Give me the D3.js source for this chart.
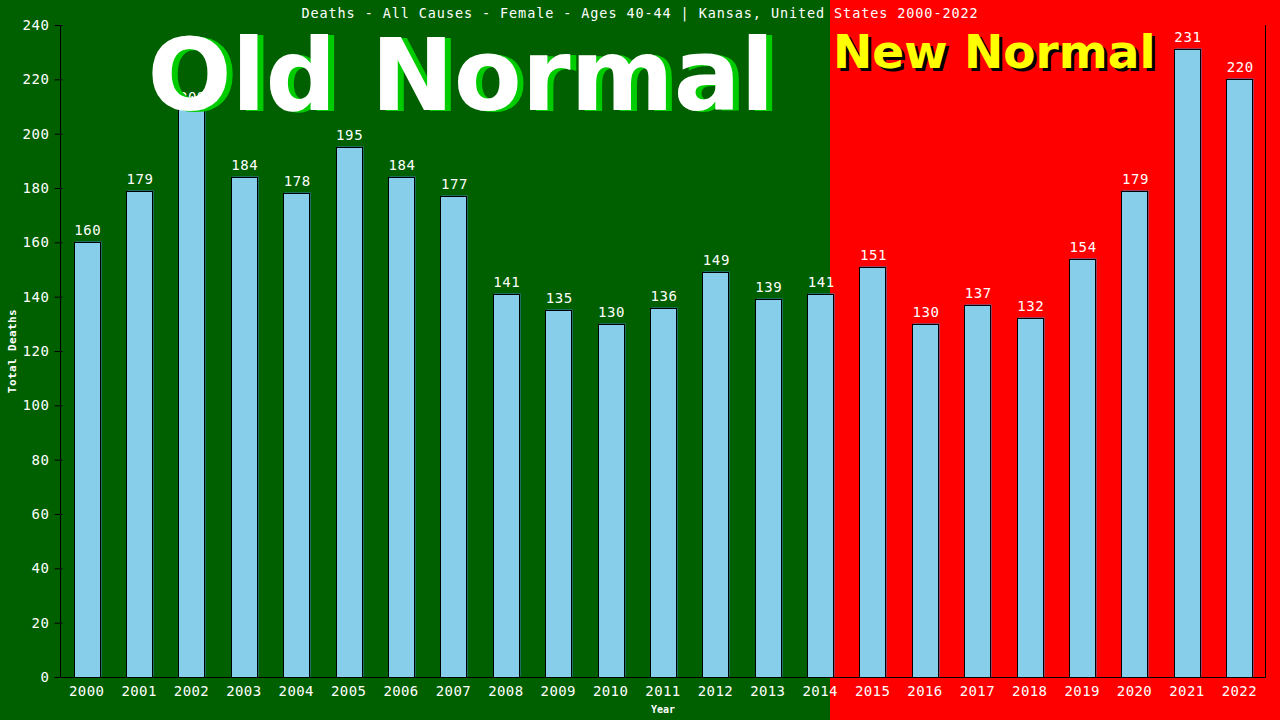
<!DOCTYPE html>
<html><head><meta charset="utf-8">
<script src="https://cdn.jsdelivr.net/npm/d3@7"></script>
<style>
html,body{margin:0;padding:0;background:#006000;}
svg{display:block;}
.mono{font-family:"DejaVu Sans Mono",monospace;}
</style></head>
<body>
<svg id="chart" width="1280" height="720"></svg>
<script>
const years = ["2000","2001","2002","2003","2004","2005","2006","2007","2008","2009","2010","2011","2012","2013","2014","2015","2016","2017","2018","2019","2020","2021","2022"];
const deaths = [160,179,209,184,178,195,184,177,141,135,130,136,149,139,141,151,130,137,132,154,179,231,220];
const yTicks = [0,20,40,60,80,100,120,140,160,180,200,220,240];
const title = "Deaths - All Causes - Female - Ages 40-44 | Kansas, United States 2000-2022";

const W = 1280, H = 720;
const m = {left:60.5, right:1265.5, top:25, bottom:677};
const splitX = 830;

const svg = d3.select("#chart");
// backgrounds
svg.append("rect").attr("x",0).attr("y",0).attr("width",splitX).attr("height",H).attr("fill","#006000");
svg.append("rect").attr("x",splitX).attr("y",0).attr("width",W-splitX).attr("height",H).attr("fill","#ff0000");

const x = d3.scaleBand().domain(years).range([m.left, m.right]).paddingInner(0.5).paddingOuter(0.25);
const y = d3.scaleLinear().domain([0,240]).range([m.bottom, m.top]);

const data = years.map((yr,i)=>({year:yr, v:deaths[i]}));

// bar shadows
svg.append("g").selectAll("rect").data(data).join("rect")
  .attr("x", d=>Math.round(x(d.year))+1.5)
  .attr("y", d=>Math.round(y(d.v))-0.5)
  .attr("width", Math.round(x.bandwidth()))
  .attr("height", d=>m.bottom - Math.round(y(d.v)))
  .attr("fill","#3a7fc0");
// bars
svg.append("g").selectAll("rect").data(data).join("rect")
  .attr("x", d=>Math.round(x(d.year))+0.5)
  .attr("y", d=>Math.round(y(d.v))+0.5)
  .attr("width", Math.round(x.bandwidth()))
  .attr("height", d=>m.bottom - Math.round(y(d.v)))
  .attr("fill","#87CEEB").attr("stroke","#000").attr("stroke-width",1);

// value labels
svg.append("g").selectAll("text").data(data).join("text")
  .attr("class","mono")
  .attr("x", d=>x(d.year)+x.bandwidth()/2+1)
  .attr("y", d=>y(d.v)-7)
  .attr("text-anchor","middle")
  .attr("fill","#fff").attr("font-size","14px").attr("letter-spacing","0.6px")
  .text(d=>d.v);

// y axis
const yAxis = svg.append("g").attr("transform",`translate(${m.left},0)`)
  .call(d3.axisLeft(y).tickValues(yTicks).tickSize(6).tickPadding(5));
yAxis.select(".domain").attr("stroke","#000").attr("d",`M0,${m.top}V${m.bottom}`);
yAxis.selectAll(".tick line").attr("stroke","#000").attr("x2",-6).attr("x1",2);
yAxis.selectAll(".tick text").attr("class","mono").attr("fill","#fff").attr("font-size","14px").attr("letter-spacing","0.6px");

// x axis
const xAxis = svg.append("g").attr("transform",`translate(0,${m.bottom})`)
  .call(d3.axisBottom(x).tickSize(0).tickPadding(9));
xAxis.select(".domain").attr("stroke","#000").attr("d",`M${m.left-6},0.5H${m.right}`);
xAxis.selectAll(".tick text").attr("class","mono").attr("fill","#fff").attr("font-size","14px").attr("letter-spacing","0.4px");

// right border line
svg.append("line").attr("x1",m.right).attr("x2",m.right).attr("y1",m.top).attr("y2",m.bottom+0.5).attr("stroke","#000");

// axis titles
svg.append("text").attr("class","mono").attr("x",(m.left+m.right)/2).attr("y",713)
  .attr("text-anchor","middle").attr("fill","#fff").attr("font-size","10px").attr("font-weight","bold").text("Year");
svg.append("text").attr("class","mono").attr("transform",`translate(16,${(m.top+m.bottom)/2}) rotate(-90)`)
  .attr("text-anchor","middle").attr("fill","#fff").attr("font-size","11px").attr("font-weight","bold").attr("letter-spacing","0.4px").text("Total Deaths");

// title
svg.append("text").attr("class","mono").attr("x",640).attr("y",18)
  .attr("text-anchor","middle").attr("fill","#fff").attr("font-size","13.5px").attr("letter-spacing","0.9px").text(title);

// Old Normal
const oldG = svg.append("g").attr("font-family","'DejaVu Sans',Verdana,sans-serif").attr("font-weight","bold").attr("font-size","99px");
oldG.append("text").attr("x",467).attr("y",111).attr("text-anchor","middle").attr("fill","#00cc00").text("Old Normal");
oldG.append("text").attr("x",461).attr("y",110).attr("text-anchor","middle").attr("fill","#fff").text("Old Normal");

// New Normal
const newG = svg.append("g").attr("font-family","'DejaVu Sans',Verdana,sans-serif").attr("font-weight","bold").attr("font-size","47px");
newG.append("text").attr("x",836).attr("y",71).attr("fill","#000").text("New Normal");
newG.append("text").attr("x",833).attr("y",68).attr("fill","#ffff00").text("New Normal");
</script>
</body></html>
